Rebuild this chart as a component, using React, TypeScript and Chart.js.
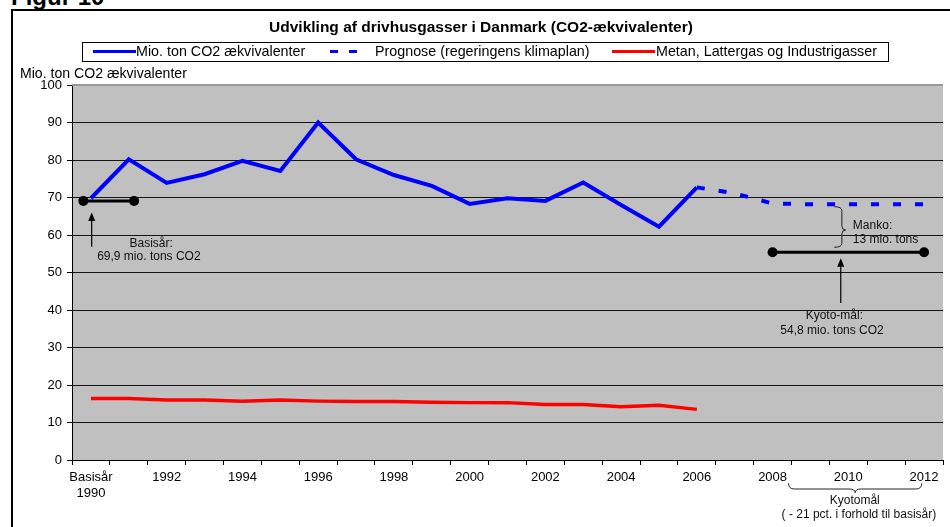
import React, { useEffect, useRef } from 'react';
import { Chart, registerables } from 'chart.js';

Chart.register(...registerables);

const FONT = '"Liberation Sans", Arial, Helvetica, sans-serif';

// ---- data ----
const years = ['1990', '1991', '1992', '1993', '1994', '1995', '1996', '1997', '1998', '1999', '2000', '2001', '2002', '2003', '2004', '2005', '2006', '2007', '2008', '2009', '2010', '2011', '2012'];
const xTickLabels: (string | string[])[] = [['Basisår', '1990'], '', '1992', '', '1994', '', '1996', '', '1998', '', '2000', '', '2002', '', '2004', '', '2006', '', '2008', '', '2010', '', '2012'];
const co2Emissions = [69.8, 80.2, 73.9, 76.2, 79.8, 77.1, 90.0, 80.2, 76.0, 73.1, 68.3, 69.8, 69.1, 74.0, 68.0, 62.2, 72.7, null, null, null, null, null, null];
const co2Forecast = [null, null, null, null, null, null, null, null, null, null, null, null, null, null, null, null, 72.7, 71.1, 68.4, 68.2, 68.2, 68.2, 68.2];
const otherGases = [16.4, 16.4, 16.0, 16.0, 15.7, 16.0, 15.7, 15.6, 15.6, 15.4, 15.3, 15.3, 14.8, 14.8, 14.2, 14.6, 13.5, null, null, null, null, null, null];

const seriesNames = ['Mio. ton CO2 ækvivalenter', 'Prognose (regeringens klimaplan)', 'Metan, Lattergas og Industrigasser'];

// annotation anchors (category index / axis value)
const baseYearBar = { from: -0.2, to: 1.14, value: 69.1 };
const baseYearArrow = { x: 0.02, tail: 56.9, tip: 66.0 };
const baseYearText = [
  { text: 'Basisår:', x: 1.59, value: 57.65 },
  { text: '69,9 mio. tons CO2', x: 1.53, value: 54.27 },
];
const kyotoBar = { from: 18, to: 22, value: 55.4 };
const kyotoArrow = { x: 19.8, tail: 41.9, tip: 53.8 };
const kyotoText = [
  { text: 'Kyoto-mål:', x: 19.63, value: 38.4 },
  { text: '54,8 mio. tons CO2', x: 19.57, value: 34.59 },
];
const mankoBrace = { outer: 19.63, mid: 19.83, tip: 19.93, top: 67.55, bottom: 56.72, center: 61.33 };
const mankoText = [
  { text: 'Manko:', x: 20.12, value: 62.4 },
  { text: '13 mio. tons', x: 20.12, value: 58.67 },
];
const periodBrace = { left: 18.42, right: 21.94, tip: 20.18 };
const periodText = [
  { text: 'Kyotomål', x: 20.17, offset: 40.5 },
  { text: '( - 21 pct. i forhold til basisår)', x: 20.28, offset: 55 },
];

function drawBar(ctx: CanvasRenderingContext2D, x1: number, x2: number, y: number) {
  ctx.save();
  ctx.strokeStyle = '#000';
  ctx.fillStyle = '#000';
  ctx.lineWidth = 3;
  ctx.beginPath();
  ctx.moveTo(x1, y);
  ctx.lineTo(x2, y);
  ctx.stroke();
  [x1, x2].forEach((x) => {
    ctx.beginPath();
    ctx.arc(x, y, 5, 0, Math.PI * 2);
    ctx.fill();
  });
  ctx.restore();
}

function drawArrow(ctx: CanvasRenderingContext2D, x: number, yTail: number, yTip: number) {
  ctx.save();
  ctx.strokeStyle = '#000';
  ctx.fillStyle = '#000';
  ctx.lineWidth = 1.2;
  ctx.beginPath();
  ctx.moveTo(x, yTail);
  ctx.lineTo(x, yTip + 7);
  ctx.stroke();
  ctx.beginPath();
  ctx.moveTo(x, yTip);
  ctx.lineTo(x - 3.5, yTip + 8.5);
  ctx.lineTo(x + 3.5, yTip + 8.5);
  ctx.closePath();
  ctx.fill();
  ctx.restore();
}

function drawText(ctx: CanvasRenderingContext2D, s: string, x: number, y: number, align: CanvasTextAlign) {
  ctx.save();
  ctx.font = `12px ${FONT}`;
  ctx.fillStyle = '#111';
  ctx.textAlign = align;
  ctx.textBaseline = 'middle';
  ctx.fillText(s, x, y);
  ctx.restore();
}

const decorPlugin = {
  id: 'decor',
  beforeDraw(chart: any) {
    const { ctx, chartArea: a } = chart;
    ctx.save();
    ctx.fillStyle = '#C0C0C0';
    ctx.fillRect(a.left, a.top, a.right - a.left, a.bottom - a.top);
    ctx.restore();
  },
  beforeDatasetsDraw(chart: any) {
    const { ctx, chartArea: a } = chart;
    ctx.save();
    ctx.strokeStyle = '#999999';
    ctx.lineWidth = 2;
    ctx.beginPath();
    ctx.moveTo(a.left, a.top);
    ctx.lineTo(a.right, a.top);
    ctx.stroke();
    ctx.restore();
  },
  afterDatasetsDraw(chart: any) {
    const ctx: CanvasRenderingContext2D = chart.ctx;
    const xs = chart.scales.x;
    const ys = chart.scales.y;
    const px = (v: number) => xs.getPixelForValue(v);
    const py = (v: number) => ys.getPixelForValue(v);

    drawBar(ctx, px(baseYearBar.from), px(baseYearBar.to), py(baseYearBar.value));
    drawArrow(ctx, px(baseYearArrow.x), py(baseYearArrow.tail), py(baseYearArrow.tip));
    baseYearText.forEach((t) => drawText(ctx, t.text, px(t.x), py(t.value), 'center'));

    drawBar(ctx, px(kyotoBar.from), px(kyotoBar.to), py(kyotoBar.value));
    drawArrow(ctx, px(kyotoArrow.x), py(kyotoArrow.tail), py(kyotoArrow.tip));
    kyotoText.forEach((t) => drawText(ctx, t.text, px(t.x), py(t.value), 'center'));

    // Manko brace
    {
      const xo = px(mankoBrace.outer);
      const xm = px(mankoBrace.mid);
      const xt = px(mankoBrace.tip);
      const yt = py(mankoBrace.top);
      const yb = py(mankoBrace.bottom);
      const yc = py(mankoBrace.center);
      const r = 4;
      ctx.save();
      ctx.strokeStyle = '#222';
      ctx.lineWidth = 1;
      ctx.beginPath();
      ctx.moveTo(xo, yt);
      ctx.quadraticCurveTo(xm, yt, xm, yt + r);
      ctx.lineTo(xm, yc - r);
      ctx.quadraticCurveTo(xm, yc, xt, yc);
      ctx.quadraticCurveTo(xm, yc, xm, yc + r);
      ctx.lineTo(xm, yb - r);
      ctx.quadraticCurveTo(xm, yb, xo, yb);
      ctx.stroke();
      ctx.restore();
    }
    mankoText.forEach((t) => drawText(ctx, t.text, px(t.x), py(t.value), 'left'));
  },
  afterDraw(chart: any) {
    const ctx: CanvasRenderingContext2D = chart.ctx;
    const xs = chart.scales.x;
    const bottom = chart.chartArea.bottom;
    const px = (v: number) => xs.getPixelForValue(v);
    const xl = px(periodBrace.left);
    const xr = px(periodBrace.right);
    const xt = px(periodBrace.tip);
    const yTop = bottom + 23.3;
    const yMid = bottom + 29;
    const yTip = bottom + 32.7;
    const r = 6;
    ctx.save();
    ctx.strokeStyle = '#222';
    ctx.lineWidth = 1;
    ctx.beginPath();
    ctx.moveTo(xl, yTop);
    ctx.quadraticCurveTo(xl, yMid, xl + r, yMid);
    ctx.lineTo(xt - r, yMid);
    ctx.quadraticCurveTo(xt, yMid, xt, yTip);
    ctx.quadraticCurveTo(xt, yMid, xt + r, yMid);
    ctx.lineTo(xr - r, yMid);
    ctx.quadraticCurveTo(xr, yMid, xr, yTop);
    ctx.stroke();
    ctx.restore();
    periodText.forEach((t) => drawText(ctx, t.text, px(t.x), bottom + t.offset, 'center'));
  },
};

export default function App() {
  const ref = useRef<HTMLCanvasElement>(null);

  useEffect(() => {
    if (!ref.current) return;
    const chart = new Chart(ref.current, {
      type: 'line',
      data: {
        labels: years,
        datasets: [
          {
            label: seriesNames[0],
            data: co2Emissions,
            borderColor: '#0000FF',
            backgroundColor: '#0000FF',
            borderWidth: 4,
            pointRadius: 0,
            fill: false,
          },
          {
            label: seriesNames[1],
            data: co2Forecast,
            borderColor: '#0000FF',
            backgroundColor: '#0000FF',
            borderWidth: 4,
            borderDash: [8, 14],
            pointRadius: 0,
            fill: false,
          },
          {
            label: seriesNames[2],
            data: otherGases,
            borderColor: '#FF0000',
            backgroundColor: '#FF0000',
            borderWidth: 3.5,
            pointRadius: 0,
            fill: false,
          },
        ],
      },
      options: {
        responsive: false,
        animation: false,
        devicePixelRatio: 1,
        layout: { padding: { left: 0, right: 7, top: 85, bottom: 0 } },
        plugins: {
          legend: { display: false },
          title: { display: false },
          tooltip: { enabled: false },
        },
        elements: { line: { tension: 0 }, point: { radius: 0 } },
        scales: {
          x: {
            type: 'category',
            offset: true,
            grid: { offset: true, drawOnChartArea: false, drawTicks: true, tickLength: 5, color: '#000', lineWidth: 1 },
            border: { color: '#000', width: 1 },
            ticks: {
              autoSkip: false,
              maxRotation: 0,
              minRotation: 0,
              padding: 4,
              color: '#000',
              font: { family: FONT, size: 13, lineHeight: 1.23 },
              callback: (_v: any, i: number) => xTickLabels[i],
            },
            afterFit: (s: any) => {
              s.height = 67;
            },
          },
          y: {
            min: 0,
            max: 100,
            ticks: { stepSize: 10, padding: 5, color: '#000', font: { family: FONT, size: 13 } },
            grid: {
              color: (c: any) => (c.tick && c.tick.value === 100 ? 'rgba(0,0,0,0)' : '#151515'),
              tickColor: '#000',
              tickLength: 5,
              lineWidth: 1,
            },
            border: { color: '#000', width: 1 },
            afterFit: (s: any) => {
              s.width = 72;
            },
          },
        },
      },
      plugins: [decorPlugin],
    } as any);
    return () => chart.destroy();
  }, []);

  const legendText: React.CSSProperties = {
    position: 'absolute',
    top: 43,
    fontSize: 14.3,
    lineHeight: '16px',
    whiteSpace: 'nowrap',
    color: '#000',
  };
  const swatch = (left: number, width: number, color: string): React.CSSProperties => ({
    position: 'absolute',
    left,
    top: 50,
    width,
    height: 3,
    background: color,
  });

  return (
    <div
      style={{
        position: 'absolute',
        left: 0,
        top: 0,
        width: 950,
        height: 527,
        overflow: 'hidden',
        background: '#fff',
        fontFamily: FONT,
      }}
    >
      <div
        style={{
          position: 'absolute',
          left: 11,
          top: -17.5,
          fontSize: 24,
          fontWeight: 'bold',
          lineHeight: '27px',
          whiteSpace: 'nowrap',
        }}
      >
        Figur 10
      </div>
      <div
        style={{
          position: 'absolute',
          left: 11,
          top: 9,
          width: 960,
          height: 600,
          borderTop: '2px solid #000',
          borderLeft: '2px solid #000',
        }}
      />
      <canvas ref={ref} width={950} height={527} style={{ position: 'absolute', left: 0, top: 0 }} />
      <div
        style={{
          position: 'absolute',
          left: 0,
          width: 962,
          top: 18,
          textAlign: 'center',
          fontSize: 15.5,
          fontWeight: 'bold',
          lineHeight: '18px',
          whiteSpace: 'nowrap',
        }}
      >
        Udvikling af drivhusgasser i Danmark (CO2-ækvivalenter)
      </div>
      <div
        style={{
          position: 'absolute',
          left: 82,
          top: 42,
          width: 807,
          height: 20,
          boxSizing: 'border-box',
          border: '1px solid #000',
        }}
      />
      <div style={swatch(93, 43, '#0000FF')} />
      <div style={{ ...legendText, left: 136 }}>{seriesNames[0]}</div>
      <div style={swatch(330, 8, '#0000FF')} />
      <div style={swatch(349, 8, '#0000FF')} />
      <div style={{ ...legendText, left: 375 }}>{seriesNames[1]}</div>
      <div style={swatch(612, 43, '#FF0000')} />
      <div style={{ ...legendText, left: 656 }}>{seriesNames[2]}</div>
      <div
        style={{
          position: 'absolute',
          left: 20,
          top: 64.5,
          fontSize: 14.1,
          lineHeight: '16px',
          whiteSpace: 'nowrap',
        }}
      >
        Mio. ton CO2 ækvivalenter
      </div>
    </div>
  );
}
